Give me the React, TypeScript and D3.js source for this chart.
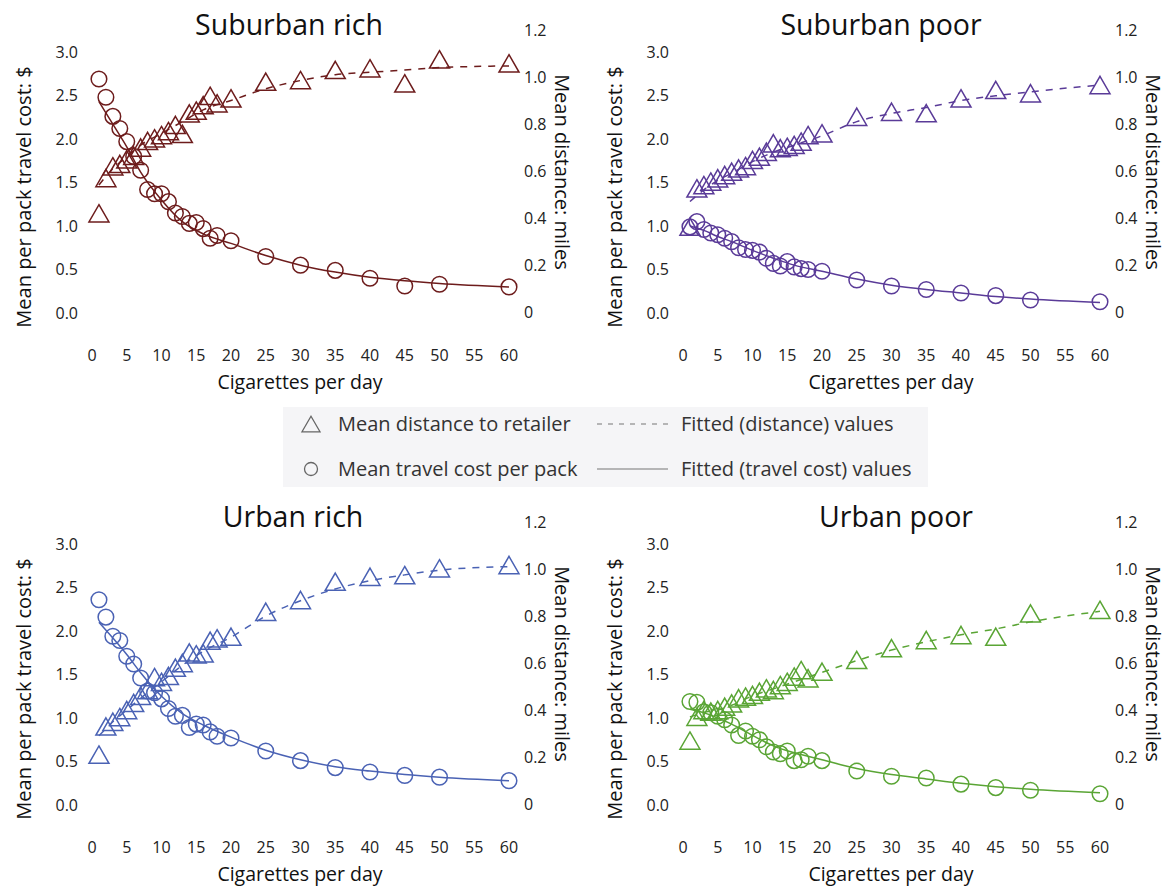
import React from "react";
import * as d3 from "d3";

// ---- data ----
const cigs = [1, 2, 3, 4, 5, 6, 7, 8, 9, 10, 11, 12, 13, 14, 15, 16, 17, 18, 20, 25, 30, 35, 40, 45, 50, 60];
const fitX = [1, 3, 5, 7, 10, 13, 16, 20, 25, 30, 35, 40, 45, 50, 60];

const xTicks = [0, 5, 10, 15, 20, 25, 30, 35, 40, 45, 50, 55, 60];
const costTicks = [0, 0.5, 1, 1.5, 2, 2.5, 3];
const costTickLabels = ["0.0", "0.5", "1.0", "1.5", "2.0", "2.5", "3.0"];
const distTicks = [0, 0.2, 0.4, 0.6, 0.8, 1.0, 1.2];
const distTickLabels = ["0", "0.2", "0.4", "0.6", "0.8", "1.0", "1.2"];

const panelTitles = ["Suburban rich", "Suburban poor", "Urban rich", "Urban poor"];
const panelColors = ["#6d1c1c", "#5a3b98", "#4a62b4", "#5aa535"];

// mean travel cost per pack ($)
const costSubRich = [2.69, 2.48, 2.26, 2.12, 1.97, 1.8, 1.64, 1.42, 1.37, 1.37, 1.28, 1.15, 1.11, 1.03, 1.04, 0.97, 0.86, 0.89, 0.83, 0.65, 0.55, 0.49, 0.4, 0.31, 0.33, 0.3];
const costSubPoor = [0.99, 1.05, 0.96, 0.92, 0.9, 0.86, 0.82, 0.75, 0.73, 0.72, 0.7, 0.63, 0.57, 0.54, 0.59, 0.53, 0.51, 0.5, 0.48, 0.38, 0.31, 0.27, 0.23, 0.2, 0.15, 0.13];
const costUrbRich = [2.36, 2.16, 1.94, 1.89, 1.71, 1.62, 1.46, 1.31, 1.29, 1.22, 1.11, 1.02, 1.03, 0.89, 0.93, 0.92, 0.84, 0.79, 0.77, 0.62, 0.51, 0.43, 0.38, 0.34, 0.32, 0.28];
const costUrbPoor = [1.19, 1.18, 1.07, 1.06, 1.02, 0.98, 0.92, 0.8, 0.85, 0.79, 0.75, 0.67, 0.61, 0.59, 0.62, 0.51, 0.52, 0.56, 0.51, 0.39, 0.33, 0.31, 0.24, 0.2, 0.17, 0.13];

// mean distance to retailer (miles)
const distSubRich = [0.42, 0.57, 0.62, 0.63, 0.65, 0.665, 0.7, 0.728, 0.739, 0.753, 0.77, 0.796, 0.758, 0.845, 0.857, 0.88, 0.92, 0.888, 0.909, 0.98, 0.987, 1.03, 1.037, 0.973, 1.075, 1.058];
const distSubPoor = [0.363, 0.526, 0.54, 0.555, 0.569, 0.583, 0.597, 0.611, 0.621, 0.647, 0.661, 0.682, 0.718, 0.697, 0.703, 0.711, 0.725, 0.753, 0.76, 0.831, 0.852, 0.846, 0.909, 0.945, 0.931, 0.966];
const distUrbRich = [0.21, 0.33, 0.35, 0.37, 0.4, 0.43, 0.46, 0.485, 0.54, 0.52, 0.545, 0.58, 0.6, 0.645, 0.637, 0.641, 0.695, 0.705, 0.712, 0.818, 0.868, 0.946, 0.967, 0.974, 1.003, 1.017];
const distUrbPoor = [0.27, 0.371, 0.4, 0.393, 0.4, 0.414, 0.428, 0.45, 0.457, 0.464, 0.478, 0.492, 0.485, 0.506, 0.52, 0.542, 0.57, 0.535, 0.563, 0.613, 0.663, 0.698, 0.719, 0.712, 0.811, 0.826];

// fitted values at fitX
const fitCostSubRich = [2.43, 2.17, 1.91, 1.62, 1.3, 1.05, 0.91, 0.8, 0.66, 0.55, 0.47, 0.41, 0.37, 0.34, 0.3];
const fitCostSubPoor = [1.0, 0.95, 0.88, 0.82, 0.72, 0.63, 0.55, 0.48, 0.39, 0.32, 0.27, 0.23, 0.19, 0.16, 0.12];
const fitCostUrbRich = [2.1, 1.92, 1.73, 1.52, 1.25, 1.05, 0.92, 0.78, 0.63, 0.52, 0.44, 0.39, 0.35, 0.32, 0.28];
const fitCostUrbPoor = [1.1, 1.06, 1.0, 0.93, 0.8, 0.68, 0.6, 0.52, 0.42, 0.35, 0.3, 0.25, 0.21, 0.18, 0.14];

const fitDistSubRich = [0.54, 0.61, 0.66, 0.71, 0.76, 0.81, 0.86, 0.9, 0.95, 0.985, 1.01, 1.02, 1.03, 1.04, 1.047];
const fitDistSubPoor = [0.47, 0.52, 0.56, 0.59, 0.64, 0.68, 0.71, 0.75, 0.81, 0.845, 0.87, 0.9, 0.92, 0.937, 0.966];
const fitDistUrbRich = [0.29, 0.35, 0.4, 0.45, 0.52, 0.59, 0.65, 0.71, 0.8, 0.865, 0.915, 0.95, 0.975, 0.995, 1.01];
const fitDistUrbPoor = [0.37, 0.39, 0.4, 0.42, 0.46, 0.49, 0.52, 0.56, 0.61, 0.655, 0.69, 0.72, 0.745, 0.775, 0.82];

const legendMarkerLabels = ["Mean distance to retailer", "Mean travel cost per pack"];
const legendLineLabels = ["Fitted (distance) values", "Fitted (travel cost) values"];

// ---- layout ----
const W = 1173;
const H = 886;
const FONT = "'Open Sans', 'Noto Sans', sans-serif";
const panels = [
  { dx: 0, dy: 0, titleX: 289, cost: costSubRich, dist: distSubRich, fc: fitCostSubRich, fd: fitDistSubRich },
  { dx: 591, dy: 0, titleX: 881, cost: costSubPoor, dist: distSubPoor, fc: fitCostSubPoor, fd: fitDistSubPoor },
  { dx: 0, dy: 492, titleX: 293, cost: costUrbRich, dist: distUrbRich, fc: fitCostUrbRich, fd: fitDistUrbRich },
  { dx: 591, dy: 492, titleX: 896, cost: costUrbPoor, dist: distUrbPoor, fc: fitCostUrbPoor, fd: fitDistUrbPoor },
];

const TRI_S = 20;
function triPath(cx: number, cy: number, s: number) {
  const h = (s * Math.sqrt(3)) / 2;
  return `M${cx},${cy - h / 2}L${cx + s / 2},${cy + h / 2}L${cx - s / 2},${cy + h / 2}Z`;
}

function Panel({ p, i }: { p: any; i: number }) {
  const color = panelColors[i];
  const x = d3.scaleLinear().domain([0, 60]).range([92, 509]);
  const yC = d3.scaleLinear().domain([0, 3]).range([313, 52]);
  const yD = d3.scaleLinear().domain([0, 1.2]).range([312, 30]);
  const lineC = d3
    .line<number>()
    .x((_, k) => x(fitX[k]))
    .y((v) => yC(v))
    .curve(d3.curveMonotoneX);
  const lineD = d3
    .line<number>()
    .x((_, k) => x(fitX[k]))
    .y((v) => yD(v))
    .curve(d3.curveMonotoneX);
  return (
    <g transform={`translate(${p.dx},${p.dy})`} fontFamily={FONT}>
      <text x={p.titleX - p.dx} y={35} fontSize={28.5} textAnchor="middle" fill="#111">
        {panelTitles[i]}
      </text>
      {costTicks.map((t, k) => (
        <text key={"c" + k} x={78} y={yC(t)} dy="0.36em" fontSize={16} textAnchor="end" fill="#222">
          {costTickLabels[k]}
        </text>
      ))}
      {distTicks.map((t, k) => (
        <text key={"d" + k} x={524} y={yD(t)} dy="0.36em" fontSize={16} textAnchor="start" fill="#222">
          {distTickLabels[k]}
        </text>
      ))}
      {xTicks.map((t, k) => (
        <text key={"x" + k} x={x(t)} y={355} dy="0.36em" fontSize={16} textAnchor="middle" fill="#222">
          {t}
        </text>
      ))}
      <text x={300} y={382} dy="0.36em" fontSize={19.5} textAnchor="middle" fill="#111">
        Cigarettes per day
      </text>
      <text
        transform={`translate(24,197) rotate(-90)`}
        dy="0.36em"
        fontSize={20}
        textAnchor="middle"
        fill="#111"
      >
        Mean per pack travel cost: $
      </text>
      <text
        transform={`translate(562,172) rotate(90)`}
        dy="0.36em"
        fontSize={20}
        textAnchor="middle"
        fill="#111"
      >
        Mean distance: miles
      </text>
      <path d={lineD(p.fd) || ""} fill="none" stroke={color} strokeWidth={1.5} strokeDasharray="7,7" />
      <path d={lineC(p.fc) || ""} fill="none" stroke={color} strokeWidth={1.5} />
      {p.dist.map((v: number, k: number) => (
        <path key={"t" + k} d={triPath(x(cigs[k]), yD(v), TRI_S)} fill="none" stroke={color} strokeWidth={1.5} />
      ))}
      {p.cost.map((v: number, k: number) => (
        <circle key={"o" + k} cx={x(cigs[k])} cy={yC(v)} r={7.8} fill="none" stroke={color} strokeWidth={1.5} />
      ))}
    </g>
  );
}

function Legend() {
  const rows = [424, 469];
  return (
    <g fontFamily={FONT}>
      <rect x={283} y={407} width={645} height={80} fill="#f5f5f7" />
      <path d={triPath(311, rows[0], 18)} fill="none" stroke="#666" strokeWidth={1.3} />
      <circle cx={311} cy={rows[1]} r={6.5} fill="none" stroke="#666" strokeWidth={1.3} />
      {legendMarkerLabels.map((s, k) => (
        <text key={"m" + k} x={338} y={rows[k]} dy="0.36em" fontSize={20} fill="#333">
          {s}
        </text>
      ))}
      <line x1={597} x2={668} y1={rows[0]} y2={rows[0]} stroke="#777" strokeWidth={1.2} strokeDasharray="5,6" />
      <line x1={597} x2={668} y1={rows[1]} y2={rows[1]} stroke="#777" strokeWidth={1.2} />
      {legendLineLabels.map((s, k) => (
        <text key={"l" + k} x={681} y={rows[k]} dy="0.36em" fontSize={20} fill="#333">
          {s}
        </text>
      ))}
    </g>
  );
}

export default function App() {
  return (
    <svg
      width={W}
      height={H}
      viewBox={`0 0 ${W} ${H}`}
      style={{ position: "absolute", left: 0, top: 0, background: "#fff" }}
    >
      <rect width={W} height={H} fill="#fff" />
      {panels.map((p, i) => (
        <Panel key={i} p={p} i={i} />
      ))}
      <Legend />
    </svg>
  );
}
